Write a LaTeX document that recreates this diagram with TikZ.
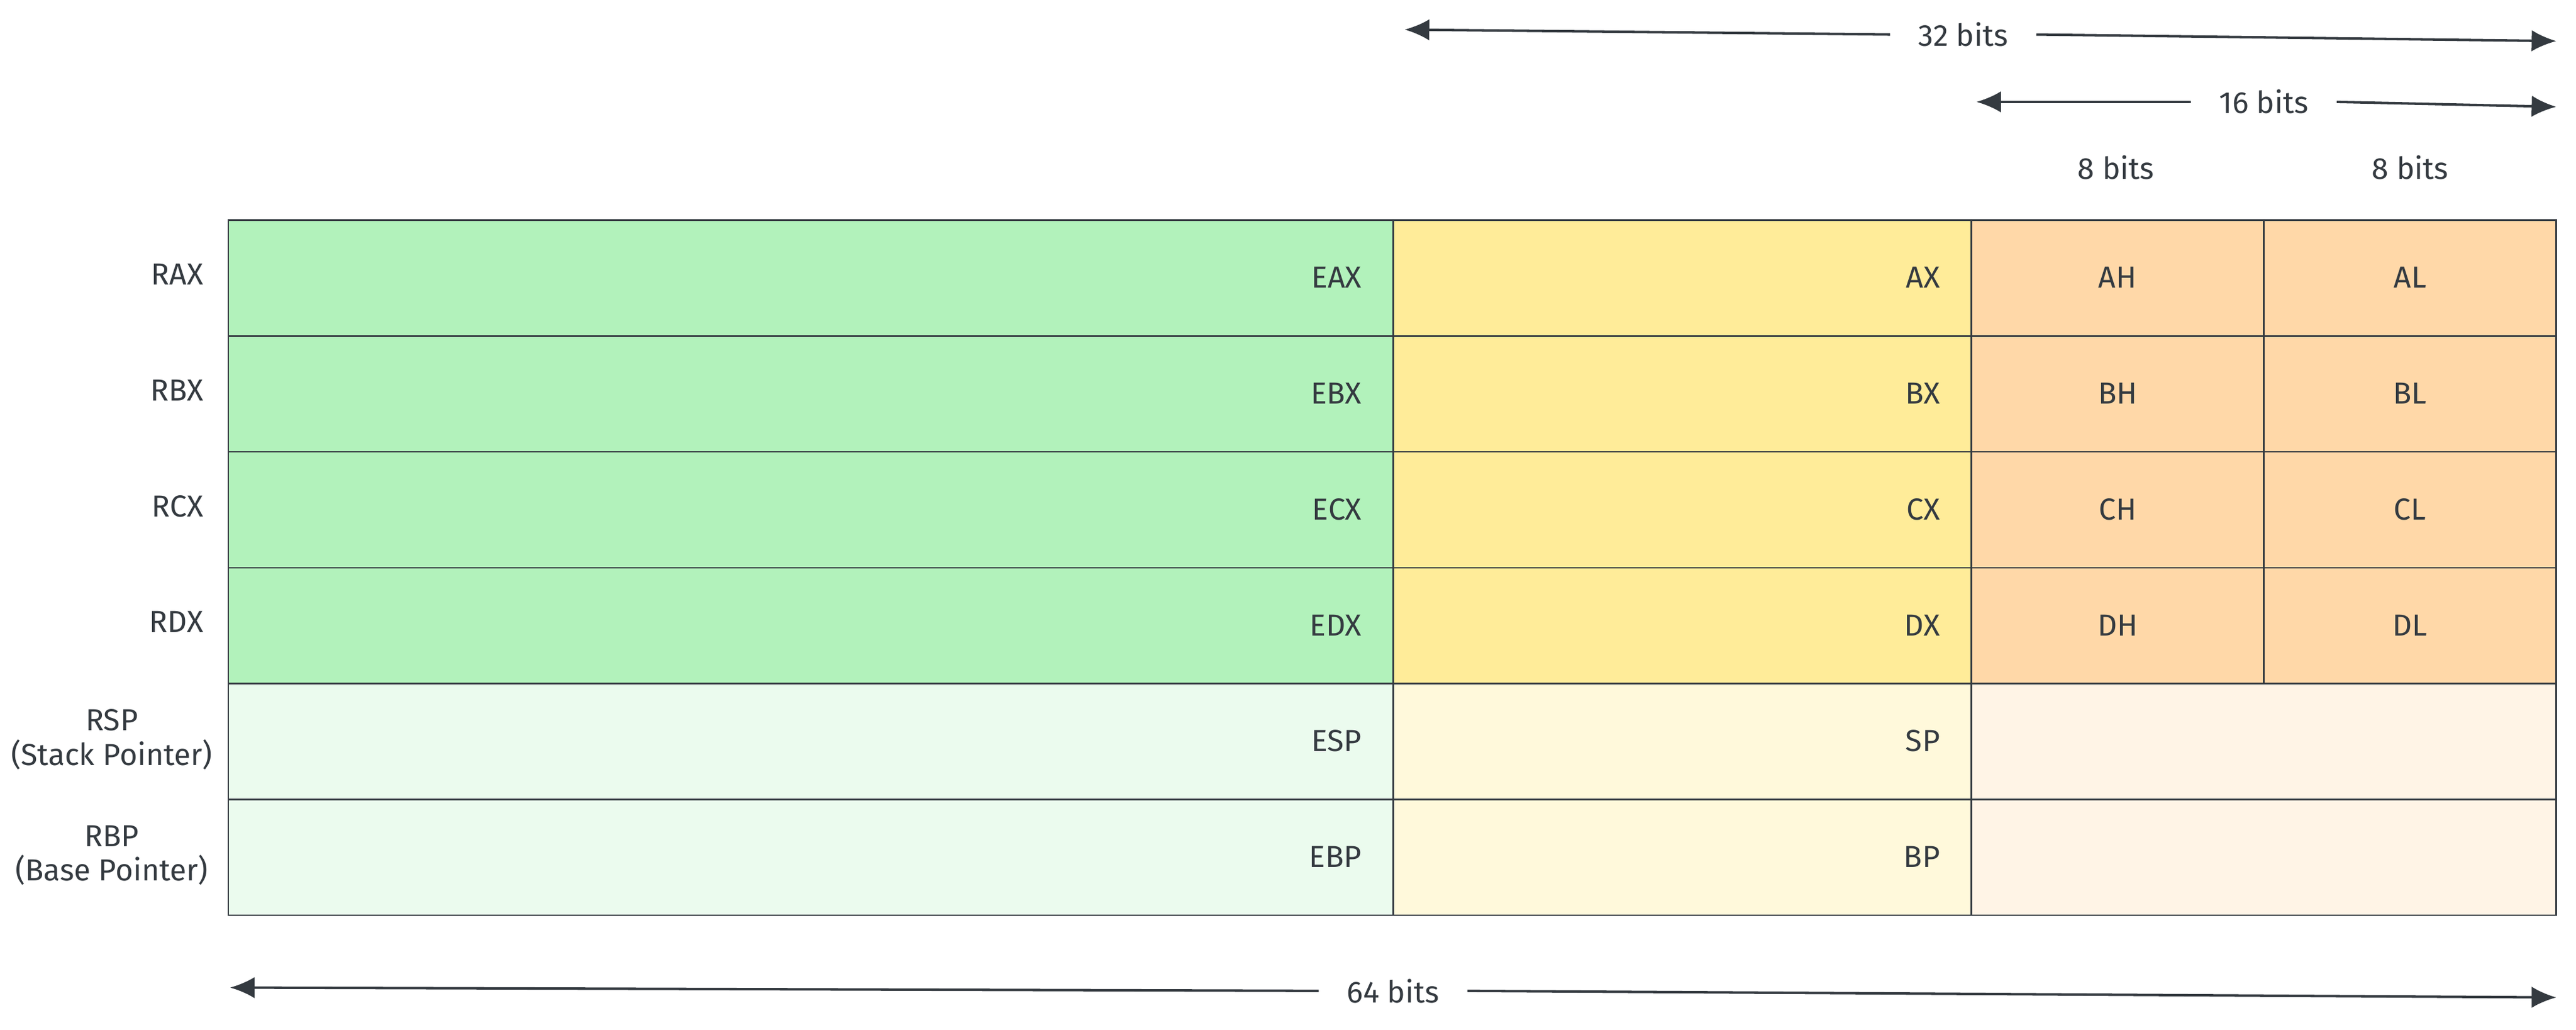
\documentclass[tikz,border=0pt]{standalone}
\usepackage{fontspec}
\setmainfont{Fira Sans}
\usetikzlibrary{arrows.meta}
\definecolor{ink}{HTML}{343A40}
\definecolor{grn}{HTML}{B2F2BB}
\definecolor{ylw}{HTML}{FFEC99}
\definecolor{org}{HTML}{FFD8A8}
\definecolor{grnlt}{HTML}{EBFBEE}
\definecolor{ylwlt}{HTML}{FFF9DB}
\definecolor{orglt}{HTML}{FFF4E6}
\tikzset{
  reg/.style={draw=ink, line width=1pt},
  txt/.style={text=ink, font=\fontsize{18.5}{21}\selectfont, inner sep=0pt},
  bitlbl/.style={txt, inner xsep=17pt},
  span/.style={draw=ink, line width=1.5pt, -{Latex[length=15pt,width=13pt]}},
}
\begin{document}
\begin{tikzpicture}[x=1pt,y=-1pt]
        \useasboundingbox (0,0) rectangle (1568,626.5);
        % general purpose registers
        \foreach \r [count=\i from 0] in {A,B,C,D}{
          \pgfmathsetmacro{\t}{134+70.5*\i}
          \draw[reg, fill=grn] (139,\t) rectangle (848,\t+70.5);
          \draw[reg, fill=ylw] (848,\t) rectangle (1200,\t+70.5);
          \draw[reg, fill=org] (1200,\t) rectangle (1378,\t+70.5);
          \draw[reg, fill=org] (1378,\t) rectangle (1556,\t+70.5);
          \node[txt, anchor=east] (r\r x) at (124,\t+33) {R\r X};
          \node[txt, anchor=east] (e\r x) at (829,\t+35) {E\r X};
          \node[txt, anchor=east] (\r x) at (1181,\t+35) {\r X};
          \node[txt] (\r h) at (1289,\t+35) {\r H};
          \node[txt] (\r l) at (1467,\t+35) {\r L};
        }
        % pointer registers
        \foreach \r/\n [count=\i from 4] in {S/Stack,B/Base}{
          \pgfmathsetmacro{\t}{134+70.5*\i}
          \draw[reg, fill=grnlt] (139,\t) rectangle (848,\t+70.5);
          \draw[reg, fill=ylwlt] (848,\t) rectangle (1200,\t+70.5);
          \draw[reg, fill=orglt] (1200,\t) rectangle (1556,\t+70.5);
          \node[txt, align=center] (r\r p) at (68,\t+34) {R\r P\\(\n\ Pointer)};
          \node[txt, anchor=east] (e\r p) at (829,\t+35) {E\r P};
          \node[txt, anchor=east] (\r p) at (1181,\t+35) {\r P};
        }
        % widths
        \coordinate (l32) at (855,18);
        \coordinate (r32) at (1556,25);
        \node[bitlbl] (b32) at (1195,21) {32 bits};
        \draw[span] (b32.west) -- (l32);
        \draw[span] (b32.east) -- (r32);
        \coordinate (l16) at (1203,62);
        \coordinate (r16) at (1556,65);
        \node[bitlbl] (b16) at (1378,62) {16 bits};
        \draw[span] (b16.west) -- (l16);
        \draw[span] (b16.east) -- (r16);
        \node[txt] (b8h) at (1288,102) {8 bits};
        \node[txt] (b8l) at (1467,102) {8 bits};
        \coordinate (l64) at (140,601);
        \coordinate (r64) at (1556,607);
        \node[bitlbl] (b64) at (848,603) {64 bits};
        \draw[span] (b64.west) -- (l64);
        \draw[span] (b64.east) -- (r64);
\end{tikzpicture}
\end{document}
